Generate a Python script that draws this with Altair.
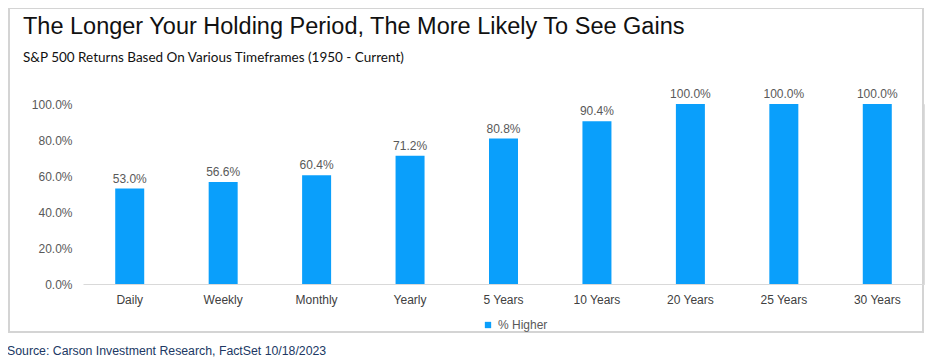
import altair as alt
import pandas as pd

categories = ["Daily", "Weekly", "Monthly", "Yearly", "5 Years", "10 Years", "20 Years", "25 Years", "30 Years"]
pct_higher = [0.530, 0.566, 0.604, 0.712, 0.808, 0.904, 1.0, 1.0, 1.0]
series_name = "% Higher"
y_ticks = [0.0, 0.2, 0.4, 0.6, 0.8, 1.0]

title_text = "The Longer Your Holding Period, The More Likely To See Gains"
subtitle_text = "S&P 500 Returns Based On Various Timeframes (1950 - Current)"
source_text = "Source: Carson Investment Research, FactSet 10/18/2023"

df = pd.DataFrame({"period": categories, "value": pct_higher, "series": [series_name] * len(categories)})

FONT = "Liberation Sans"
BAR = "#0a9ffb"

W, H = 841, 180

x_enc = alt.X("period:N", sort=categories, title=None,
              scale=alt.Scale(paddingInner=0.68, paddingOuter=0.34),
              axis=alt.Axis(labelAngle=0, ticks=False, domainColor="#d9d9d9", domainWidth=1,
                            labelColor="#404040", labelFontSize=12, labelFont=FONT, labelPadding=10,
                            zindex=1))
y_enc = alt.Y("value:Q", title=None, scale=alt.Scale(domain=[0, 1]),
              axis=alt.Axis(values=y_ticks, format=".1%", grid=False, ticks=False, domain=False,
                            labelColor="#595959", labelFontSize=12, labelFont=FONT, labelPadding=11,
                            labelOverlap=False, labelFlush=False, labelBound=False, zindex=1))

one = alt.Data(values=[{"k": 1}])

box = alt.Chart(one).mark_rect(fill="white", stroke="#d4d4d4", strokeWidth=2).encode(
    x=alt.value(-74), x2=alt.value(840), y=alt.value(-96), y2=alt.value(228))

bars = alt.Chart(df).mark_bar(size=29, color=BAR).encode(
    x=x_enc, y=y_enc,
    color=alt.Color("series:N", scale=alt.Scale(range=[BAR]),
                    legend=alt.Legend(title=None, orient="none", legendX=399, legendY=215,
                                      symbolType="square", symbolSize=40, symbolStrokeWidth=0,
                                      labelFontSize=12, labelFont=FONT, labelColor="#595959",
                                      padding=0, labelOffset=4)))

labels = alt.Chart(df).mark_text(dy=-6, baseline="alphabetic", fontSize=12, font=FONT, color="#595959").encode(
    x=x_enc, y=y_enc, text=alt.Text("value:Q", format=".1%"))

title = alt.Chart(one).mark_text(align="left", baseline="alphabetic", fontSize=23.5, font=FONT,
                                 color="#111111", text=title_text).encode(x=alt.value(-60), y=alt.value(-70))
subtitle = alt.Chart(one).mark_text(align="left", baseline="alphabetic", fontSize=13.5, font="Lato",
                                    color="#111111", text=subtitle_text).encode(x=alt.value(-60), y=alt.value(-42))
source = alt.Chart(one).mark_text(align="left", baseline="alphabetic", fontSize=12.3, font=FONT,
                                  color="#203864", text=source_text).encode(x=alt.value(-76), y=alt.value(251))

chart = alt.layer(box, bars, labels, title, subtitle, source).properties(
    width=W, height=H,
    autosize=alt.AutoSizeParams(type="none"),
    padding={"left": 75, "top": 96, "right": 4, "bottom": 74},
).configure_view(stroke=None).configure(background="white")

chart.save("out.html", embed_options={"renderer": "svg", "actions": False})
